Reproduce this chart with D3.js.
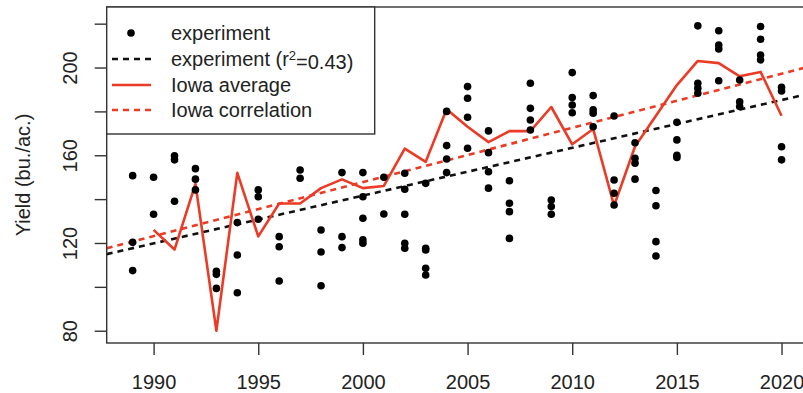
<!DOCTYPE html>
<html>
<head>
<meta charset="utf-8">
<script src="https://cdn.jsdelivr.net/npm/d3@7"></script>
<style>
    body { margin: 0; background: #fff; }
    svg text { font-family: "Liberation Sans", Arial, sans-serif; fill: #222; }
</style>
</head>
<body>
<div id="chart"></div>
<script>
// experiment plots, one list of yields per year
const expYears = [1989, 1990, 1991, 1992, 1993, 1994, 1995, 1996, 1997, 1998, 1999,
    2000, 2001, 2002, 2003, 2004, 2005, 2006, 2007, 2008, 2009, 2010,
    2011, 2012, 2013, 2014, 2015, 2016, 2017, 2018, 2019, 2020];
const expYields = [
    [150.7, 120.3, 107.4],
    [150, 133.1],
    [159.8, 157.9, 139],
    [153.9, 149.1, 144.2],
    [107.1, 105.7, 99.3],
    [129.3, 114.5, 97.3],
    [144.2, 141.1, 130.8],
    [122.9, 118.3, 102.7],
    [153.3, 149.5],
    [125.9, 115.9, 100.5],
    [152.1, 122.9, 117.9],
    [152.1, 141.1, 131.3, 121.4, 119.9],
    [150, 133.2],
    [151.8, 144.5, 133.1, 119.9, 117.6],
    [147.2, 117.6, 116.8, 108.5, 105.4],
    [180, 164.4, 158.3, 152.1],
    [191.3, 186, 177.3, 163.2],
    [171.1, 161.2, 152.5, 145],
    [148.4, 138.1, 134.3, 122.1],
    [192.8, 181.4, 176.1, 171.5],
    [139.6, 136.6, 133.1],
    [197.7, 186.3, 182.9, 179.4],
    [187.2, 180.7, 179.2, 173],
    [177.9, 148.7, 142.7, 137.3],
    [165.7, 158.6, 156.4, 149.1],
    [143.9, 137, 120.6, 114.1],
    [175, 167, 160, 159],
    [219, 192.8, 190.6, 188.3],
    [216.8, 210.3, 208.5, 194],
    [194.3, 184.4, 182.2],
    [218.7, 212.9, 205.7, 203.5],
    [191, 189.3, 163.9, 157.9]
];

// state average
const iowaYears = d3.range(1990, 2021);
const iowaYields = [126, 117, 147, 80, 152, 123, 138, 138, 145, 149, 145, 146, 163, 157,
    181, 173, 166, 171, 171, 182, 165, 172, 137, 164, 178, 192, 203, 202, 196, 198, 178];

// fitted lines: value at 2000 and slope per year
const expFit = {at2000: 141.6, slope: 2.179};
const iowaFit = {at2000: 147.8, slope: 2.468};

const xTicks = [1990, 1995, 2000, 2005, 2010, 2015, 2020];
const yTicks = [80, 100, 120, 140, 160, 180, 200, 220];
const yLabels = [80, 120, 160, 200];

const RED = "#ec3b25";

class YieldChart {
    constructor (options) {
        this.width = options.width;
        this.height = options.height;
        this.box = options.box;
        this.svg = d3.select(options.container).append("svg")
            .attr("width", this.width)
            .attr("height", this.height);

        this.x = d3.scaleLinear().domain([1987.76, 2021.24])
            .range([this.box.left, this.box.right]);
        this.y = d3.scaleLinear().domain([74.4, 227.6])
            .range([this.box.bottom, this.box.top]);

        this.svg.append("clipPath").attr("id", "plot-clip")
            .append("rect")
                .attr("x", this.box.left)
                .attr("y", this.box.top)
                .attr("width", this.box.right - this.box.left)
                .attr("height", this.box.bottom - this.box.top);
        this.plot = this.svg.append("g").attr("clip-path", "url(#plot-clip)");
    }

    render () {
        this.addFits();
        this.addIowa();
        this.addPoints();
        this.addAxes();
        this.addLegend();
    }

    addFits () {
        var x = this.x, y = this.y, d = x.domain();
        [[expFit, "#111"], [iowaFit, RED]].forEach(([fit, color]) => {
            var f = yr => fit.at2000 + fit.slope * (yr - 2000);
            this.plot.append("line")
                .attr("x1", x(d[0])).attr("y1", y(f(d[0])))
                .attr("x2", x(d[1])).attr("y2", y(f(d[1])))
                .attr("stroke", color)
                .attr("stroke-width", 2.6)
                .attr("stroke-dasharray", "6,5");
        });
    }

    addIowa () {
        var line = d3.line()
            .x((d, i) => this.x(iowaYears[i]))
            .y(d => this.y(d));
        this.plot.append("path")
            .datum(iowaYields)
            .attr("d", line)
            .attr("fill", "none")
            .attr("stroke", RED)
            .attr("stroke-width", 2.6)
            .attr("stroke-linejoin", "round");
    }

    addPoints () {
        var pts = [];
        expYears.forEach((yr, i) => expYields[i].forEach(v => pts.push([yr, v])));
        this.plot.selectAll(".pt")
            .data(pts).enter()
            .append("circle")
                .attr("class", "pt")
                .attr("cx", d => this.x(d[0]))
                .attr("cy", d => this.y(d[1]))
                .attr("r", 3.8)
                .attr("fill", "#000");
    }

    addAxes () {
        var b = this.box;

        var gx = this.svg.append("g")
            .attr("transform", `translate(0, ${b.bottom})`)
            .call(d3.axisBottom(this.x).tickValues(xTicks).tickFormat(d3.format("d"))
                .tickSize(12).tickSizeOuter(0));
        gx.select(".domain").remove();
        gx.selectAll("line").attr("stroke", "#333").attr("stroke-width", 1.4);
        gx.selectAll("text")
            .attr("y", 38.5).attr("dy", "0.35em")
            .style("font-size", "20px");

        var gy = this.svg.append("g")
            .attr("transform", `translate(${b.left}, 0)`)
            .call(d3.axisLeft(this.y).tickValues(yTicks)
                .tickFormat(d => yLabels.includes(d) ? d : "")
                .tickSize(12).tickSizeOuter(0));
        gy.select(".domain").remove();
        gy.selectAll("line").attr("stroke", "#333").attr("stroke-width", 1.4);
        gy.selectAll("text")
            .attr("x", null).attr("dy", null)
            .attr("text-anchor", "middle")
            .attr("transform", "translate(-37, 0) rotate(-90)")
            .attr("dy", "0.35em")
            .style("font-size", "20px");

        // box round the plot region
        this.svg.append("rect")
            .attr("x", b.left).attr("y", b.top)
            .attr("width", b.right - b.left)
            .attr("height", b.bottom - b.top)
            .attr("fill", "none")
            .attr("stroke", "#333")
            .attr("stroke-width", 1.4);

        this.svg.append("text")
            .attr("transform", `translate(23, ${(b.top + b.bottom) / 2}) rotate(-90)`)
            .attr("text-anchor", "middle")
            .attr("dy", "0.35em")
            .style("font-size", "20px")
            .text("Yield (bu./ac.)");
    }

    addLegend () {
        var b = this.box;
        var lg = this.svg.append("g");
        lg.append("rect")
            .attr("x", b.left).attr("y", b.top)
            .attr("width", 268).attr("height", 127)
            .attr("fill", "#fff")
            .attr("stroke", "#333")
            .attr("stroke-width", 1.4);

        var rows = [
            {label: "experiment", kind: "dot"},
            {label: "experiment (r", sup: "2", rest: "=0.43)", kind: "dash", color: "#111"},
            {label: "Iowa average", kind: "solid", color: RED},
            {label: "Iowa correlation", kind: "dash", color: RED}
        ];
        var ys = [33, 59, 85, 110];

        rows.forEach((r, i) => {
            var yy = ys[i];
            if (r.kind === "dot") {
                lg.append("circle").attr("cx", 131).attr("cy", yy).attr("r", 3.8).attr("fill", "#000");
            } else {
                lg.append("line")
                    .attr("x1", 112).attr("x2", 151)
                    .attr("y1", yy).attr("y2", yy)
                    .attr("stroke", r.color)
                    .attr("stroke-width", 2.6)
                    .attr("stroke-dasharray", r.kind === "dash" ? "6,5" : null);
            }
            var t = lg.append("text")
                .attr("x", 171).attr("y", yy).attr("dy", "0.35em")
                .style("font-size", "20px")
                .text(r.label);
            if (r.sup) {
                t.append("tspan").attr("dy", "-0.45em").style("font-size", "13px").text(r.sup);
                t.append("tspan").attr("dy", "0.45em").text(r.rest);
            }
        });
    }
}

new YieldChart({
    container: "#chart",
    width: 803,
    height: 393,
    box: {left: 106.7, right: 807.5, top: 7, bottom: 343}
}).render();
</script>
</body>
</html>
